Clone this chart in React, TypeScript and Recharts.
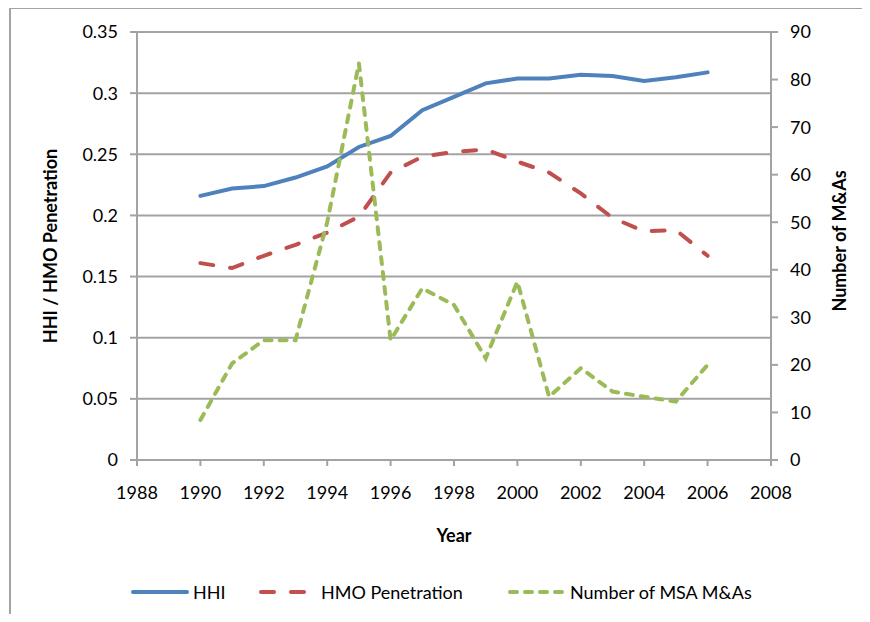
import React from "react"
import { LineChart, Line, XAxis, YAxis, CartesianGrid } from "recharts"

const years = [1990, 1991, 1992, 1993, 1994, 1995, 1996, 1997, 1998, 1999, 2000, 2001, 2002, 2003, 2004, 2005, 2006]
const hhi = [0.216, 0.222, 0.224, 0.231, 0.240, 0.256, 0.265, 0.286, 0.297, 0.308, 0.312, 0.312, 0.315, 0.314, 0.310, 0.313, 0.317]
const hmoPenetration = [0.161, 0.157, 0.167, 0.176, 0.186, 0.199, 0.235, 0.248, 0.252, 0.254, 0.244, 0.235, 0.218, 0.198, 0.187, 0.188, 0.167]
const msaMergers = [8.4, 20.3, 25.2, 25.2, 50, 83.4, 25.2, 36.1, 32.6, 21.4, 37.5, 13.3, 19.3, 14.4, 13.3, 12.3, 20]

const xTicks = [1988, 1990, 1992, 1994, 1996, 1998, 2000, 2002, 2004, 2006, 2008]
const leftTicks = [0, 0.05, 0.1, 0.15, 0.2, 0.25, 0.3, 0.35]
const rightTicks = [0, 10, 20, 30, 40, 50, 60, 70, 80, 90]

const data = years.map((year, i) => ({
  year,
  hhi: hhi[i],
  hmo: hmoPenetration[i],
  mas: msaMergers[i],
}))

const FONT = "Lato, 'Open Sans', sans-serif"
const GRID = "#a3a3a3"
const BLUE = "#4f81bd"
const RED = "#c0504d"
const GREEN = "#9bbb59"

const tickStyle = { fontSize: 18, fill: "#000", fontFamily: FONT }

export default function App() {
  return (
    <div style={{ position: "relative", width: 870, height: 622, margin: -8, background: "#fff", fontFamily: FONT }}>
      {/* outer chart frame, only top and left edges fall inside the picture */}
      <div
        style={{
          position: "absolute",
          left: 9,
          top: 7,
          width: 900,
          height: 700,
          borderLeft: `2px solid ${GRID}`,
          borderTop: `2px solid ${GRID}`,
        }}
      />
      <div style={{ position: "absolute", left: 0, top: 0 }}>
        <LineChart width={870} height={622} data={data} margin={{ top: 32, right: 0, left: 0, bottom: 72 }}>
          <CartesianGrid vertical={false} stroke={GRID} strokeWidth={2} yAxisId="left" />
          <XAxis
            dataKey="year"
            type="number"
            domain={[1988, 2008]}
            ticks={xTicks}
            height={90}
            stroke={GRID}
            strokeWidth={2}
            tickSize={6}
            tickMargin={20}
            tick={tickStyle}
            label={{
              content: (p: any) => (
                <text
                  x={p.viewBox.x + p.viewBox.width / 2}
                  y={p.viewBox.y + 82}
                  textAnchor="middle"
                  fontSize={18}
                  fontWeight="bold"
                  fontFamily={FONT}
                  fill="#000"
                >
                  Year
                </text>
              ),
            }}
          />
          <YAxis
            yAxisId="left"
            domain={[0, 0.35]}
            ticks={leftTicks}
            width={137}
            stroke={GRID}
            strokeWidth={2}
            tickSize={7}
            tickMargin={12}
            tick={tickStyle}
            tickFormatter={(v: number) => String(v)}
            label={{
              content: (p: any) => {
                const cx = 57
                const cy = p.viewBox.y + p.viewBox.height / 2
                return (
                  <text
                    x={cx}
                    y={cy}
                    transform={`rotate(-90 ${cx} ${cy})`}
                    textAnchor="middle"
                    fontSize={18}
                    fontWeight="bold"
                    fontFamily={FONT}
                    fill="#000"
                  >
                    HHI / HMO Penetration
                  </text>
                )
              },
            }}
          />
          <YAxis
            yAxisId="right"
            orientation="right"
            domain={[0, 90]}
            ticks={rightTicks}
            width={99}
            stroke={GRID}
            strokeWidth={2}
            tickSize={7}
            tickMargin={12}
            tick={tickStyle}
            label={{
              content: (p: any) => {
                const cx = 846
                const cy = p.viewBox.y + p.viewBox.height / 2 - 5
                return (
                  <text
                    x={cx}
                    y={cy}
                    transform={`rotate(-90 ${cx} ${cy})`}
                    textAnchor="middle"
                    fontSize={18}
                    fontWeight="bold"
                    fontFamily={FONT}
                    fill="#000"
                  >
                    Number of M&amp;As
                  </text>
                )
              },
            }}
          />
          <Line
            yAxisId="left"
            dataKey="hhi"
            type="linear"
            stroke={BLUE}
            strokeWidth={4}
            strokeLinecap="round"
            dot={false}
            activeDot={false}
            isAnimationActive={false}
          />
          <Line
            yAxisId="left"
            dataKey="hmo"
            type="linear"
            stroke={RED}
            strokeWidth={4}
            strokeDasharray="13 17"
            strokeLinecap="round"
            dot={false}
            activeDot={false}
            isAnimationActive={false}
          />
          <Line
            yAxisId="right"
            dataKey="mas"
            type="linear"
            stroke={GREEN}
            strokeWidth={4}
            strokeDasharray="7 8"
            strokeLinecap="round"
            dot={false}
            activeDot={false}
            isAnimationActive={false}
          />
        </LineChart>
      </div>
      {/* legend */}
      <svg width={870} height={30} style={{ position: "absolute", left: 0, top: 577 }}>
        <line x1={133} x2={187} y1={15} y2={15} stroke={BLUE} strokeWidth={4} strokeLinecap="round" />
        <text x={193} y={22} fontSize={18} fontFamily={FONT} fill="#000">HHI</text>
        <line x1={261} x2={304} y1={15} y2={15} stroke={RED} strokeWidth={4} strokeLinecap="round" strokeDasharray="13 17" />
        <text x={321} y={22} fontSize={18} fontFamily={FONT} fill="#000">HMO Penetration</text>
        <line x1={510} x2={564} y1={15} y2={15} stroke={GREEN} strokeWidth={4} strokeLinecap="round" strokeDasharray="7 8" />
        <text x={570} y={22} fontSize={18} fontFamily={FONT} fill="#000">Number of MSA M&amp;As</text>
      </svg>
    </div>
  )
}
